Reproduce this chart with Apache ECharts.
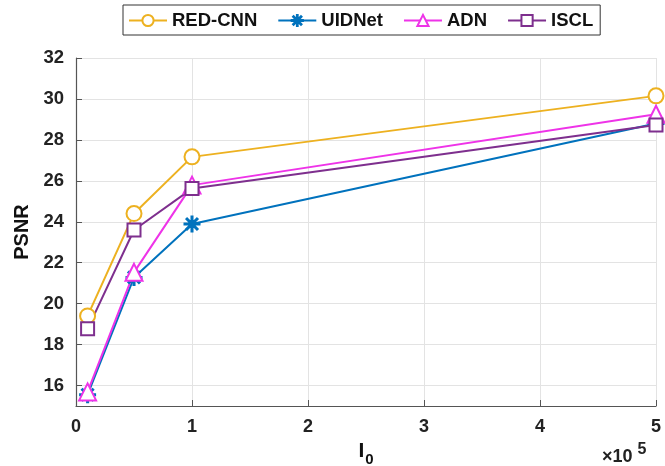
<!DOCTYPE html>
<html>
<head>
<meta charset="utf-8">
<script src="https://cdn.jsdelivr.net/npm/echarts@6/dist/echarts.min.js"></script>
<style>html,body{margin:0;padding:0;background:#fff}#c{width:665px;height:466px}</style>
</head>
<body>
<div id="c"></div>
<script>
// I0 values in units of 1e5
const i0Values = [0.1, 0.5, 1, 5];
const seriesNames = ['RED-CNN', 'UIDNet', 'ADN', 'ISCL'];
const redcnn = [19.4, 24.4, 27.17, 30.15];
const uidnet = [15.55, 21.28, 23.89, 28.8];
const adn = [15.69, 21.53, 25.79, 29.25];
const iscl = [18.77, 23.6, 25.62, 28.73];
const xTicks = [0, 1, 2, 3, 4, 5];
const yTicks = [16, 18, 20, 22, 24, 26, 28, 30, 32];

const FONT = "'Liberation Sans', Arial, Helvetica, sans-serif";
const colors = ['#EDB120', '#0072BD', '#EE33E8', '#7E2F8E'];
const asterisk = 'path://M9.3,0L10.7,0L10.7,20L9.3,20Z M0,9.3L20,9.3L20,10.7L0,10.7Z ' +
  'M2.43,3.43L3.43,2.43L17.57,16.57L16.57,17.57Z M16.57,2.43L17.57,3.43L3.43,17.57L2.43,16.57Z';
const symbols = ['emptyCircle', asterisk, 'emptyTriangle', 'emptyRect'];
const symbolSizes = [15, 15, 17, 13];
const values = [redcnn, uidnet, adn, iscl];

const chart = echarts.init(document.getElementById('c'), null, {renderer: 'canvas'});
const series = seriesNames.map((name, k) => ({
  name: name,
  type: 'line',
  data: i0Values.map((x, i) => [x, values[k][i]]),
  symbol: symbols[k],
  symbolSize: symbolSizes[k],
  symbolKeepAspect: true,
  showAllSymbol: true,
  color: colors[k],
  lineStyle: {width: 2, color: colors[k]},
  itemStyle: {color: colors[k], borderColor: colors[k], borderWidth: 2},
  emphasis: {disabled: true},
  animation: false
}));

chart.setOption({
  animation: false,
  backgroundColor: '#fff',
  textStyle: {fontFamily: FONT},
  legend: {
    top: 5, left: 123,
    width: 480,
    padding: [6, 7, 5, 5],
    borderColor: '#333', borderWidth: 1,
    itemWidth: 38, itemHeight: 14, itemGap: 20,
    textStyle: {fontFamily: FONT, fontWeight: 'bold', fontSize: 18.5, color: '#111'},
    data: seriesNames
  },
  grid: {left: 76, right: 9, top: 58, bottom: 60, containLabel: false, outerBoundsMode: 'none'},
  xAxis: {
    type: 'value', min: 0, max: 5, interval: 1,
    axisLine: {lineStyle: {color: '#555', width: 1.2}},
    axisTick: {inside: true, length: 6, lineStyle: {color: '#555'}},
    axisLabel: {fontFamily: FONT, fontWeight: 'bold', fontSize: 18, color: '#222', margin: 12,
      formatter: v => xTicks.indexOf(v) >= 0 ? String(v) : ''},
    splitLine: {show: true, lineStyle: {color: '#e3e3e3', width: 1}},
    name: '{a|I}{b|0}',
    nameLocation: 'middle',
    nameGap: 30,
    nameTextStyle: {rich: {
      a: {fontFamily: FONT, fontWeight: 'bold', fontSize: 21, color: '#111'},
      b: {fontFamily: FONT, fontWeight: 'bold', fontSize: 15, color: '#111', padding: [16, 0, 0, 1]}
    }}
  },
  yAxis: {
    type: 'value', min: 15, max: 32, splitNumber: 8, minInterval: 2, maxInterval: 2,
    axisLine: {show: true, lineStyle: {color: '#555', width: 1.2}},
    axisTick: {show: true, inside: true, length: 6, lineStyle: {color: '#555'}},
    axisLabel: {fontFamily: FONT, fontWeight: 'bold', fontSize: 18.5, color: '#222', margin: 12,
      formatter: v => yTicks.indexOf(v) >= 0 ? String(v) : ''},
    splitLine: {show: true, lineStyle: {color: '#e3e3e3', width: 1}},
    name: 'PSNR',
    nameLocation: 'middle',
    nameGap: 37,
    nameTextStyle: {fontFamily: FONT, fontWeight: 'bold', fontSize: 20, color: '#111'}
  },
  graphic: [{
    type: 'text',
    left: 602, top: 442,
    style: {
      text: '{a|×10}{b|5}',
      rich: {
        a: {fontFamily: FONT, fontSize: 18, fontWeight: 'bold', fill: '#222'},
        b: {fontFamily: FONT, fontSize: 16, fontWeight: 'bold', fill: '#222', padding: [0, 0, 14, 5]}
      }
    }
  }],
  series: series
});
</script>
</body>
</html>
